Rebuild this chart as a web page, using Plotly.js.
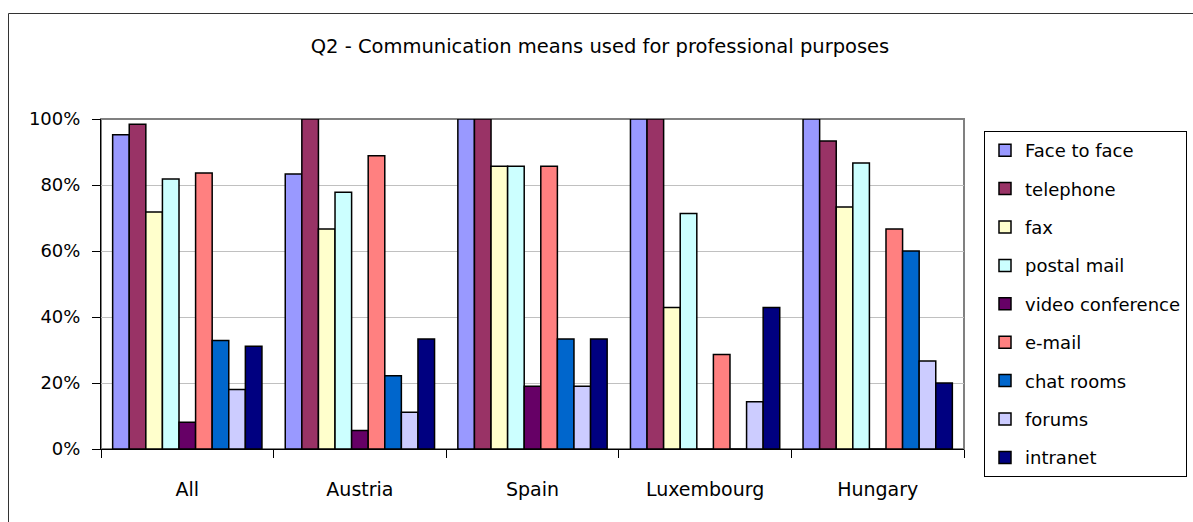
<!DOCTYPE html>
<html>
<head>
<meta charset="utf-8">
<script src="https://cdn.plot.ly/plotly-3.0.1.min.js"></script>
<style>
  html, body { margin: 0; padding: 0; background: #fff; }
  #chart { width: 1193px; height: 522px; }
</style>
</head>
<body>
<div id="chart"></div>
<script>
// Countries on the category axis
const categories = ['All', 'Austria', 'Spain', 'Luxembourg', 'Hungary'];

// Share of respondents using each means of communication (%)
const faceToFace      = [95.2, 83.3, 100, 100, 100];
const telephone       = [98.4, 100, 100, 100, 93.3];
const fax             = [71.8, 66.7, 85.7, 42.9, 73.3];
const postalMail      = [81.8, 77.8, 85.7, 71.4, 86.7];
const videoConference = [8.1, 5.6, 19.0, 0, 0];
const eMail           = [83.6, 88.9, 85.7, 28.6, 66.7];
const chatRooms       = [32.9, 22.2, 33.3, 0, 60.0];
const forums          = [18.0, 11.1, 19.0, 14.3, 26.7];
const intranet        = [31.1, 33.3, 33.3, 42.9, 20.0];

const seriesNames = ['Face to face', 'telephone', 'fax', 'postal mail', 'video conference',
                     'e-mail', 'chat rooms', 'forums', 'intranet'];
const seriesValues = [faceToFace, telephone, fax, postalMail, videoConference,
                      eMail, chatRooms, forums, intranet];
const seriesColors = ['#9999FF', '#993366', '#FFFFCC', '#CCFFFF', '#660066',
                      '#FF8080', '#0066CC', '#CCCCFF', '#000080'];

const yTickValues = [0, 20, 40, 60, 80, 100];
const yTickLabels = ['0%', '20%', '40%', '60%', '80%', '100%'];

const FONT = "'Comic Sans MS', 'DejaVu Sans', sans-serif";

const traces = seriesNames.map((name, i) => ({
  type: 'bar',
  name: name,
  x: categories,
  y: seriesValues[i],
  legendgroup: 'g' + i,
  marker: { color: seriesColors[i], line: { color: '#000', width: 1.5 } },
  hoverinfo: 'x+y+name'
}));

// Plot-area geometry in pixels
const W = 1193, H = 522;
const M = { l: 101, r: 229, t: 119, b: 73, autoexpand: false };
const plotW = W - M.l - M.r, plotH = H - M.t - M.b;
const px = x => (x - M.l) / plotW;
const py = y => (H - M.b - y) / plotH;

const layout = {
  width: W, height: H,
  margin: M,
  paper_bgcolor: '#fff',
  plot_bgcolor: '#fff',
  font: { family: FONT, size: 18, color: '#000' },
  title: {
    text: 'Q2 - Communication means used for professional purposes',
    font: { family: FONT, size: 19.5, color: '#000' },
    xref: 'container', yref: 'container',
    x: 600 / W, xanchor: 'center',
    y: 1 - 46 / H, yanchor: 'middle'
  },
  barmode: 'group',
  bargap: 0.135,
  bargroupgap: 0,
  xaxis: {
    type: 'category',
    showline: true, linecolor: '#000', linewidth: 1,
    ticks: 'outside', tickson: 'boundaries', ticklen: 8, tickcolor: '#000',
    tickfont: { family: FONT, size: 19, color: '#000' },
    ticklabelstandoff: 23,
    showgrid: false, zeroline: false, fixedrange: true
  },
  yaxis: {
    range: [0, 100],
    tickvals: yTickValues, ticktext: yTickLabels,
    showline: true, linecolor: '#000', linewidth: 1,
    ticks: 'outside', ticklen: 8, tickcolor: '#000',
    tickfont: { family: FONT, size: 18, color: '#000' },
    ticklabelstandoff: 8,
    showgrid: true, gridcolor: '#c0c0c0', gridwidth: 1,
    zeroline: false, fixedrange: true
  },
  legend: {
    x: px(984), xanchor: 'left',
    y: py(131), yanchor: 'top',
    maxheight: 420,
    bgcolor: '#fff', bordercolor: '#000', borderwidth: 1,
    font: { family: FONT, size: 18, color: '#000' },
    traceorder: 'grouped', tracegroupgap: 12
  },
  shapes: [
    // plot-area frame
    { type: 'rect', xref: 'paper', yref: 'paper', x0: 0, x1: 1, y0: 0, y1: 1,
      line: { color: '#808080', width: 2 }, layer: 'below' },
    // chart-area frame
    { type: 'rect', xref: 'paper', yref: 'paper',
      x0: px(8.5), x1: px(1220), y0: py(540), y1: py(13.5),
      line: { color: '#333', width: 1 }, layer: 'below' }
  ],
  showlegend: true
};

Plotly.newPlot('chart', traces, layout, { displayModeBar: false, staticPlot: true });
</script>
</body>
</html>
